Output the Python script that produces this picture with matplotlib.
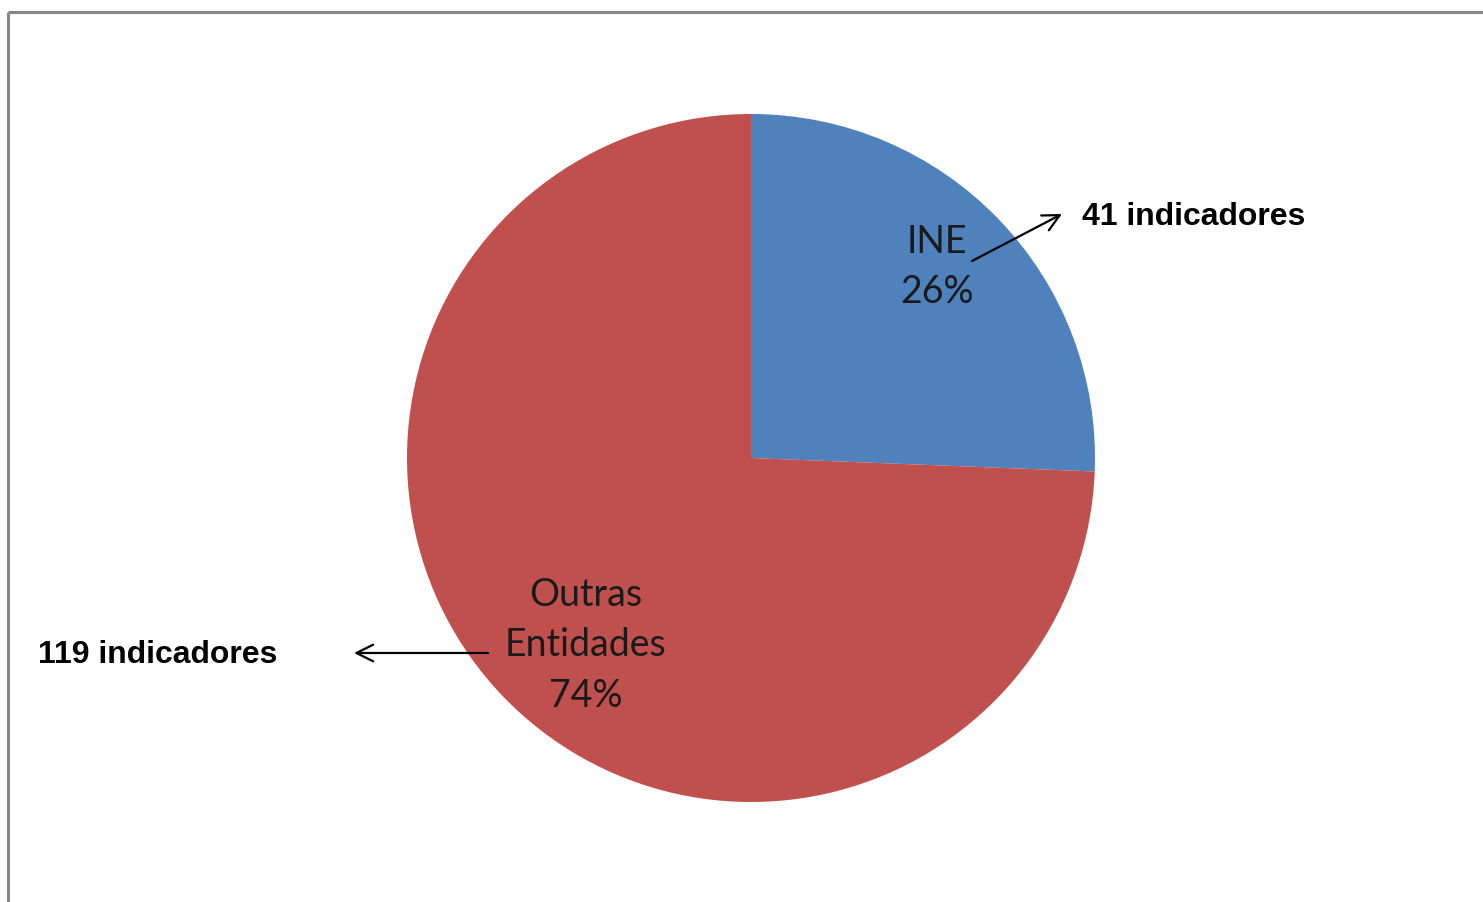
import matplotlib.pyplot as plt

# data
labels = ['INE', 'Outras\nEntidades']
counts = [41, 119]
count_labels = ['41 indicadores', '119 indicadores']
colors = ['#4F81BD', '#C0504D']

W, H = 1483, 902
fig = plt.figure(figsize=(W / 100, H / 100), dpi=100)

# pie axes: centre (751, 458), radius 344 px
cx, cy, r = 751, 458, 344
ax = fig.add_axes([(cx - r) / W, (H - cy - r) / H, 2 * r / W, 2 * r / H])

total = sum(counts)
pct = [round(100 * c / total) for c in counts]
texts_in = [f'{l}\n{p}%' for l, p in zip(labels, pct)]

wedges, texts = ax.pie(counts, colors=colors, startangle=90, counterclock=False,
                       labels=texts_in, labeldistance=0.76,
                       textprops=dict(family='Lato', fontsize=27, color='#1a1a1a',
                                      ha='center', va='center', linespacing=1.5),
                       wedgeprops=dict(linewidth=0))
ax.set_xlim(-1, 1)
ax.set_ylim(-1, 1)
ax.set_aspect('equal')
texts[0].set_position((0.54, 0.555))
texts[1].set_position((-0.48, -0.545))

# overlay axes in pixel coords (frame, arrows, side labels), drawn on top
ov = fig.add_axes([0, 0, 1, 1])
ov.set_xlim(0, W)
ov.set_ylim(H, 0)
ov.axis('off')
ov.set_zorder(5)

# frame
ov.plot([8, 8], [H + 5, 12], color='#868686', lw=2.2, solid_capstyle='butt')
ov.plot([8, W + 5], [12, 12], color='#868686', lw=2.2, solid_capstyle='butt')

# arrows and counts
arrow = dict(arrowstyle='->', color='black', lw=1.6, mutation_scale=30,
             shrinkA=0, shrinkB=0)
ov.annotate('', xy=(1062, 214), xytext=(972, 261), arrowprops=arrow)
ov.annotate('', xy=(354, 653), xytext=(488, 653), arrowprops=arrow)
ov.text(1082, 217, count_labels[0], family='Liberation Sans', fontweight='bold',
        fontsize=23, ha='left', va='center')
ov.text(38, 655, count_labels[1], family='Liberation Sans', fontweight='bold',
        fontsize=23, ha='left', va='center')

fig.savefig('out.png', dpi=100, facecolor='white')
